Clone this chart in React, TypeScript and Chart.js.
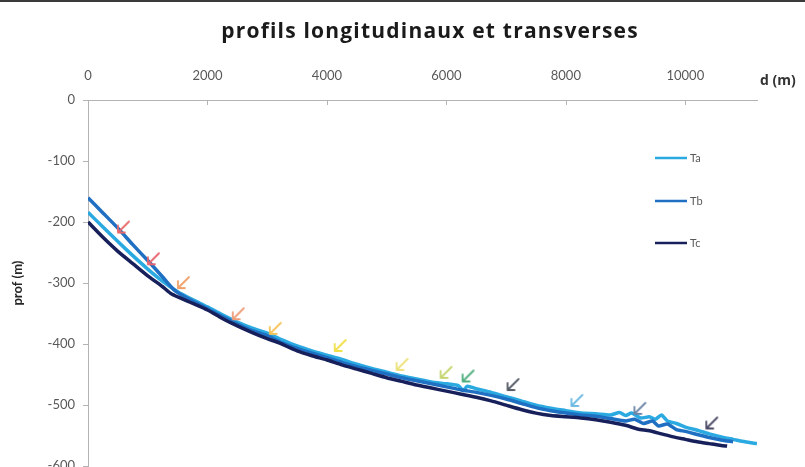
import React, { useEffect, useRef } from 'react';
import { Chart, registerables } from 'chart.js';

Chart.register(...registerables);

const TITLE = 'profils longitudinaux et transverses';
const X_TITLE = 'd (m)';
const Y_TITLE = 'prof (m)';

const seriesNames = ['Ta', 'Tb', 'Tc'];
const seriesColors = ['#2ba9e1', '#1f6fc2', '#17205a'];

const taD = [0, 250, 500, 750, 1000, 1250, 1500, 1750, 2000, 2250, 2500, 2750, 3000, 3250, 3500, 3750, 4000, 4250, 4500, 4750, 5000, 5250, 5500, 5750, 6000, 6200, 6280, 6350, 6500, 6750, 7000, 7250, 7500, 7750, 8000, 8250, 8500, 8750, 8900, 9000, 9100, 9250, 9400, 9500, 9600, 9700, 9850, 10000, 10200, 10400, 10600, 10800, 11000, 11200];
const taV = [-184, -208, -232, -255, -277, -297, -314, -327, -339, -352, -364, -374, -382, -393, -403, -411, -418, -425, -433, -440, -446, -452, -457, -462, -465, -468, -476, -469, -473, -479, -486, -493, -500, -505, -509, -513, -514, -516, -512, -517, -513, -521, -519, -523, -516, -526, -530, -536, -541, -547, -552, -556, -560, -563];

const tbD = [0, 250, 500, 750, 1000, 1250, 1450, 1700, 2000, 2250, 2500, 2750, 3000, 3250, 3500, 3750, 4000, 4250, 4500, 4750, 5000, 5250, 5500, 5750, 6000, 6250, 6500, 6750, 7000, 7250, 7500, 7750, 8000, 8250, 8500, 8750, 9000, 9150, 9300, 9450, 9550, 9700, 9850, 10000, 10200, 10400, 10600, 10800];
const tbV = [-160, -185, -210, -237, -263, -290, -312, -327, -342, -355, -367, -378, -386, -398, -407, -415, -422, -430, -437, -443, -449, -455, -460, -465, -470, -475, -479, -484, -490, -497, -504, -509, -513, -516, -518, -522, -526, -523, -530, -526, -534, -531, -540, -543, -548, -553, -557, -560];

const tcD = [0, 250, 500, 750, 1000, 1250, 1400, 1700, 2000, 2250, 2500, 2750, 3000, 3200, 3500, 3750, 4000, 4250, 4500, 4750, 5000, 5250, 5500, 5750, 6000, 6250, 6500, 6750, 7000, 7250, 7500, 7750, 8000, 8250, 8500, 8750, 9000, 9200, 9400, 9600, 9800, 10000, 10200, 10400, 10600, 10700];
const tcV = [-200, -225, -248, -268, -288, -306, -318, -331, -344, -358, -370, -381, -391, -398, -411, -419, -426, -434, -441, -448, -455, -461, -467, -472, -477, -482, -487, -493, -500, -507, -513, -517, -519, -521, -524, -528, -533, -539, -542, -547, -552, -556, -560, -563, -566, -567];

const arrowD = [585, 1087, 1589, 2508, 3127, 4214, 5250, 5987, 6355, 7107, 8177, 9231, 10435];
const arrowV = [-209, -261, -300, -351, -375, -403, -434, -447, -453, -467, -493, -506, -530];
const arrowColors = ['#e8696b', '#e8626e', '#f0a068', '#ef9d78', '#f4c45a', '#f1e04a', '#ece27a', '#c5d670', '#4fae7e', '#555b66', '#6cb9e2', '#6d86a8', '#4a4a66'];

const xTickValues = [0, 2000, 4000, 6000, 8000, 10000];
const xMin = 0;
const xMax = 11200;
const yMin = -600;
const yMax = 0;
const yStep = 100;

const FONT = 'Lato, "Open Sans", sans-serif';

function makeArrow(color: string): HTMLCanvasElement {
  const c = document.createElement('canvas');
  c.width = 18;
  c.height = 18;
  const g = c.getContext('2d')!;
  g.strokeStyle = color;
  g.lineWidth = 1.8;
  g.lineCap = 'round';
  g.lineJoin = 'round';
  g.beginPath();
  g.moveTo(15, 3);
  g.lineTo(4, 14);
  g.moveTo(4, 7);
  g.lineTo(4, 14);
  g.lineTo(11, 14);
  g.stroke();
  return c;
}

const pairs = (d: number[], v: number[]) => d.map((x, i) => ({ x, y: v[i] }));

export default function App() {
  const ref = useRef<HTMLCanvasElement | null>(null);

  useEffect(() => {
    if (!ref.current) return;
    const arrows = arrowColors.map(makeArrow);

    const legendPlugin = {
      id: 'customLegend',
      afterDraw(chart: any) {
        const { ctx, chartArea } = chart;
        ctx.save();
        ctx.font = `11px ${FONT}`;
        ctx.textBaseline = 'middle';
        ctx.textAlign = 'left';
        const offsets = [58, 101, 143];
        seriesNames.forEach((name, i) => {
          const y = chartArea.top + offsets[i];
          const x0 = chartArea.right - 102;
          ctx.strokeStyle = seriesColors[i];
          ctx.lineWidth = 2.5;
          ctx.beginPath();
          ctx.moveTo(x0, y);
          ctx.lineTo(x0 + 32, y);
          ctx.stroke();
          ctx.fillStyle = '#595959';
          ctx.fillText(name, x0 + 35, y);
        });
        ctx.restore();
      },
    };

    const axisExtras = {
      id: 'axisExtras',
      afterDraw(chart: any) {
        const { ctx, chartArea } = chart;
        const xs = chart.scales.x;
        ctx.save();
        ctx.strokeStyle = '#b3b3b3';
        ctx.lineWidth = 1;
        xTickValues.forEach((v) => {
          const px = Math.round(xs.getPixelForValue(v)) + 0.5;
          ctx.beginPath();
          ctx.moveTo(px, chartArea.top);
          ctx.lineTo(px, chartArea.top + 5);
          ctx.stroke();
        });
        ctx.fillStyle = '#333333';
        ctx.font = `bold 14px "Open Sans", sans-serif`;
        ctx.textAlign = 'left';
        ctx.textBaseline = 'middle';
        ctx.fillText(X_TITLE, chartArea.right + 3, chartArea.top - 19);
        ctx.fillStyle = '#1a1a1a';
        ctx.font = `bold 21px "Open Sans", sans-serif`;
        (ctx as any).letterSpacing = '1.2px';
        ctx.textAlign = 'center';
        ctx.fillText(TITLE, 430, 30);
        (ctx as any).letterSpacing = '0px';
        ctx.restore();
      },
    };

    const chart = new Chart(ref.current, {
      type: 'line',
      data: {
        datasets: [
          {
            label: seriesNames[0],
            data: pairs(taD, taV),
            borderColor: seriesColors[0],
            borderWidth: 3.5,
            pointRadius: 0,
            tension: 0.2,
            order: 2,
          },
          {
            label: seriesNames[1],
            data: pairs(tbD, tbV),
            borderColor: seriesColors[1],
            borderWidth: 3.5,
            pointRadius: 0,
            tension: 0.2,
            order: 1,
          },
          {
            label: seriesNames[2],
            data: pairs(tcD, tcV),
            borderColor: seriesColors[2],
            borderWidth: 3.5,
            pointRadius: 0,
            tension: 0.2,
            order: 0,
          },
          {
            label: 'arrows',
            data: pairs(arrowD, arrowV),
            showLine: false,
            pointStyle: arrows as any,
            pointRadius: 9,
            borderColor: arrowColors,
            backgroundColor: arrowColors,
            order: -1,
          } as any,
        ],
      },
      plugins: [legendPlugin, axisExtras],
      options: {
        animation: false,
        responsive: false,
        maintainAspectRatio: false,
        layout: { padding: { left: 0, right: 48, top: 40, bottom: 15 } },
        plugins: {
          legend: { display: false },
          tooltip: { enabled: false },
          title: { display: false },
        },
        scales: {
          x: {
            type: 'linear',
            position: 'top',
            min: xMin,
            max: xMax,
            afterBuildTicks: (s: any) => {
              s.ticks = xTickValues.map((value) => ({ value }));
            },
            afterFit: (s: any) => {
              s.height = 58;
            },
            ticks: {
              autoSkip: false,
              color: '#595959',
              font: { family: FONT, size: 13 },
              padding: 16,
              maxRotation: 0,
              callback: (v: any) => String(v),
            },
            grid: { display: true, drawOnChartArea: false, drawTicks: false },
            border: { display: true, color: '#b3b3b3', width: 1 },
          },
          y: {
            type: 'linear',
            position: 'left',
            min: yMin,
            max: yMax,
            afterFit: (s: any) => {
              s.width = 88;
            },
            ticks: {
              stepSize: yStep,
              color: '#595959',
              font: { family: FONT, size: 13 },
              padding: 8,
              callback: (v: any) => String(v),
            },
            grid: { display: true, drawOnChartArea: false, drawTicks: true, tickLength: 5, color: '#b3b3b3' },
            border: { display: true, color: '#b3b3b3', width: 1 },
            title: {
              display: true,
              text: Y_TITLE,
              color: '#262626',
              font: { family: FONT, size: 13, weight: 'bold' },
              padding: { top: 10, bottom: 0 },
            },
          },
        },
      },
    } as any);

    return () => chart.destroy();
  }, []);

  return (
    <div
      style={{
        position: 'fixed',
        left: 0,
        top: 0,
        width: 805,
        height: 480,
        borderTop: '2px solid #3a3a3a',
        background: '#fff',
      }}
    >
      <canvas ref={ref} width={805} height={480} style={{ display: 'block', width: 805, height: 480 }} />
    </div>
  );
}
